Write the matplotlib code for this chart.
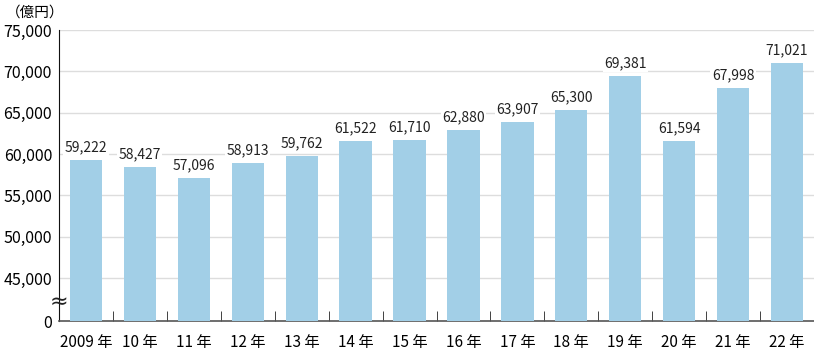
import matplotlib
matplotlib.use('Agg')
import matplotlib.pyplot as plt

plt.rcParams['font.family'] = ['Noto Sans CJK JP', 'DejaVu Sans']

years = ['2009 年', '10 年', '11 年', '12 年', '13 年', '14 年', '15 年',
         '16 年', '17 年', '18 年', '19 年', '20 年', '21 年', '22 年']
values = [59222, 58427, 57096, 58913, 59762, 61522, 61710,
          62880, 63907, 65300, 69381, 61594, 67998, 71021]
yticks = [45000, 50000, 55000, 60000, 65000, 70000, 75000]

# "0" sits below the axis break, drawn at a fake position
zero_pos = 39800
break_pos = 42100

fig = plt.figure(figsize=(8.14, 3.55), dpi=100)
ax = fig.add_axes([59 / 814, 1 - 321 / 355, 755 / 814, 291 / 355])

x = list(range(len(values)))
ax.bar(x, [v - zero_pos for v in values], bottom=zero_pos, width=0.6,
       color='#a2cfe7', zorder=3)
for xi, v in zip(x, values):
    ax.text(xi, v + 700, f'{v:,}', ha='center', va='bottom',
            fontsize=10, color='#222222', zorder=4,
            bbox=dict(facecolor='white', edgecolor='none', pad=1))

ax.set_xlim(-0.5, len(values) - 0.5)
ax.set_ylim(zero_pos, 75000)
ax.set_yticks([zero_pos] + yticks)
ax.set_yticklabels(['0'] + [f'{t:,}' for t in yticks], fontsize=11.5)
for t in yticks:
    ax.axhline(t, color='#dddddd', lw=1, zorder=1)

ax.set_xticks(x)
ax.set_xticklabels(years, fontsize=11)
ax.tick_params(axis='x', length=0, pad=9)
ax.set_xticks([i + 0.5 for i in x], minor=True)
ax.tick_params(axis='x', which='minor', direction='in', length=7, color='#222222')
ax.tick_params(axis='y', length=0, pad=5)

for s in ['top', 'right']:
    ax.spines[s].set_visible(False)
ax.spines['left'].set_color('#111111')
ax.spines['bottom'].set_color('#555555')
ax.spines['bottom'].set_linewidth(1.2)

# axis break mark
ax.text(0.0, break_pos, '≈', transform=ax.get_yaxis_transform(), ha='center',
        va='center', fontsize=16, color='#222222', zorder=5, clip_on=False,
        family='DejaVu Sans')
fig.text(35 / 814, 1 - 13 / 355, '（億円）', ha='center', va='center', fontsize=10.5)

fig.savefig('out.png', dpi=100)
